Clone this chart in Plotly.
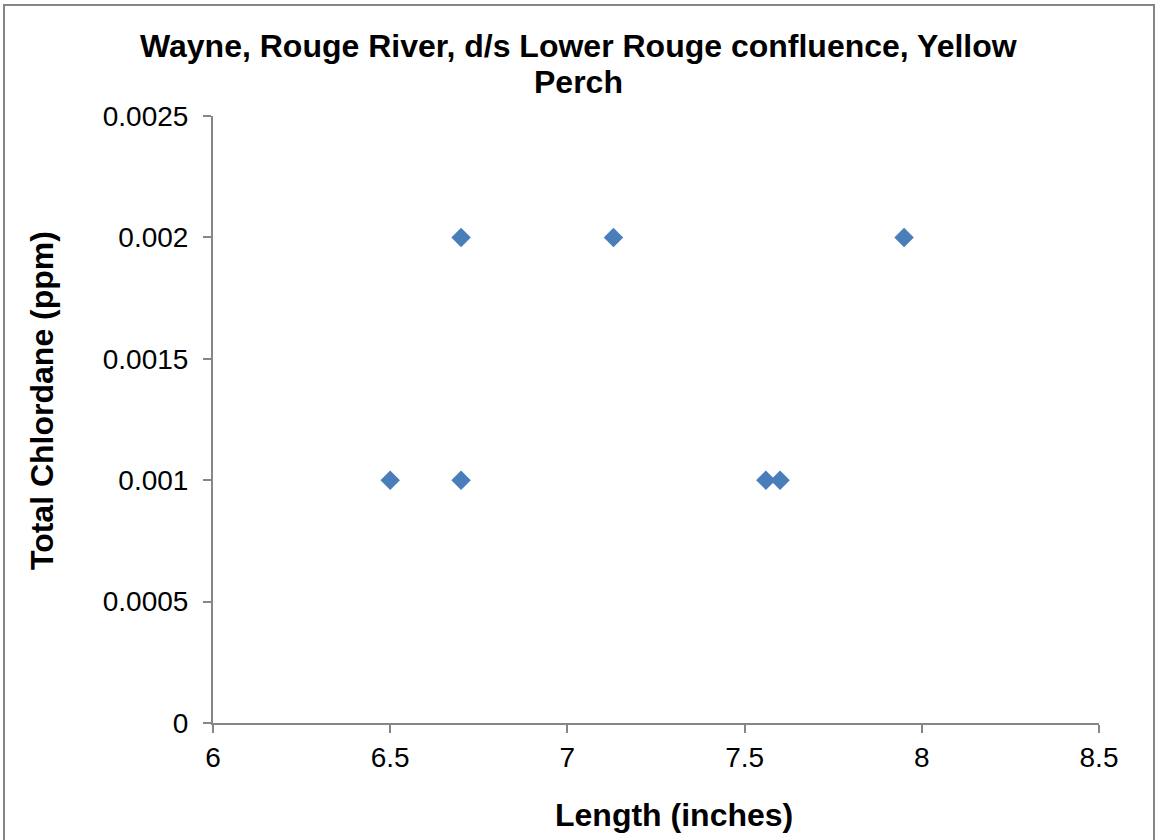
import plotly.graph_objects as go

length_in = [6.5, 6.7, 6.7, 7.13, 7.56, 7.6, 7.95]
chlordane_ppm = [0.001, 0.001, 0.002, 0.002, 0.001, 0.001, 0.002]
x_ticks = [6, 6.5, 7, 7.5, 8, 8.5]
y_ticks = [0, 0.0005, 0.001, 0.0015, 0.002, 0.0025]
y_tick_text = ["0", "0.0005", "0.001", "0.0015", "0.002", "0.0025"]
title_lines = ["Wayne, Rouge River, d/s Lower Rouge confluence, Yellow", "Perch"]
x_title = "Length (inches)"
y_title = "Total Chlordane (ppm)"

W, H = 1156, 840
L, R, T, B = 213, 1099, 116, 723

fig = go.Figure(go.Scatter(
    x=length_in, y=chlordane_ppm, mode="markers",
    marker=dict(symbol="diamond", size=15, color="#4a7ebb",
                line=dict(width=0)),
    showlegend=False,
))

axis_col = "#868686"
fig.update_layout(
    width=W, height=H,
    margin=dict(l=L, r=W - R, t=T, b=H - B),
    paper_bgcolor="white", plot_bgcolor="white",
    font=dict(family="Liberation Sans, Arial, sans-serif", color="black"),
    xaxis=dict(range=[6, 8.5], tickvals=x_ticks, ticktext=[str(v) for v in x_ticks],
               showgrid=False, zeroline=False, showline=True, linecolor=axis_col,
               linewidth=2, ticks="outside", ticklen=8, tickwidth=2, tickcolor=axis_col,
               tickfont=dict(size=28)),
    yaxis=dict(range=[0, 0.0025], tickvals=y_ticks, ticktext=y_tick_text,
               showgrid=False, zeroline=False, showline=True, linecolor=axis_col,
               linewidth=2, ticks="outside", ticklen=8, tickwidth=2, tickcolor=axis_col,
               tickfont=dict(size=28), ticklabelstandoff=9),
)

pw, ph = R - L, B - T
def px(x):
    return (x - L) / pw
def py(y):
    return (B - y) / ph

for line, yc in zip(title_lines, [46, 82]):
    fig.add_annotation(text="<b>" + line + "</b>", xref="paper", yref="paper",
                       x=px(578), y=py(yc), xanchor="center", yanchor="middle",
                       showarrow=False, font=dict(size=32))

fig.add_annotation(text="<b>" + x_title + "</b>", xref="paper", yref="paper",
                   x=px(674), y=py(815), xanchor="center", yanchor="middle",
                   showarrow=False, font=dict(size=32))
fig.add_annotation(text="<b>" + y_title + "</b>", xref="paper", yref="paper",
                   x=px(42), y=py(401), xanchor="center", yanchor="middle",
                   textangle=-90, showarrow=False, font=dict(size=32))

fig.add_shape(type="rect", xref="paper", yref="paper",
              x0=px(4), x1=px(1154), y0=py(860), y1=py(5),
              line=dict(color=axis_col, width=2), fillcolor="rgba(0,0,0,0)",
              layer="below")

fig.write_html("out.html", config={"displayModeBar": False},
               post_script="document.body.style.margin='0';document.body.style.padding='0';")
